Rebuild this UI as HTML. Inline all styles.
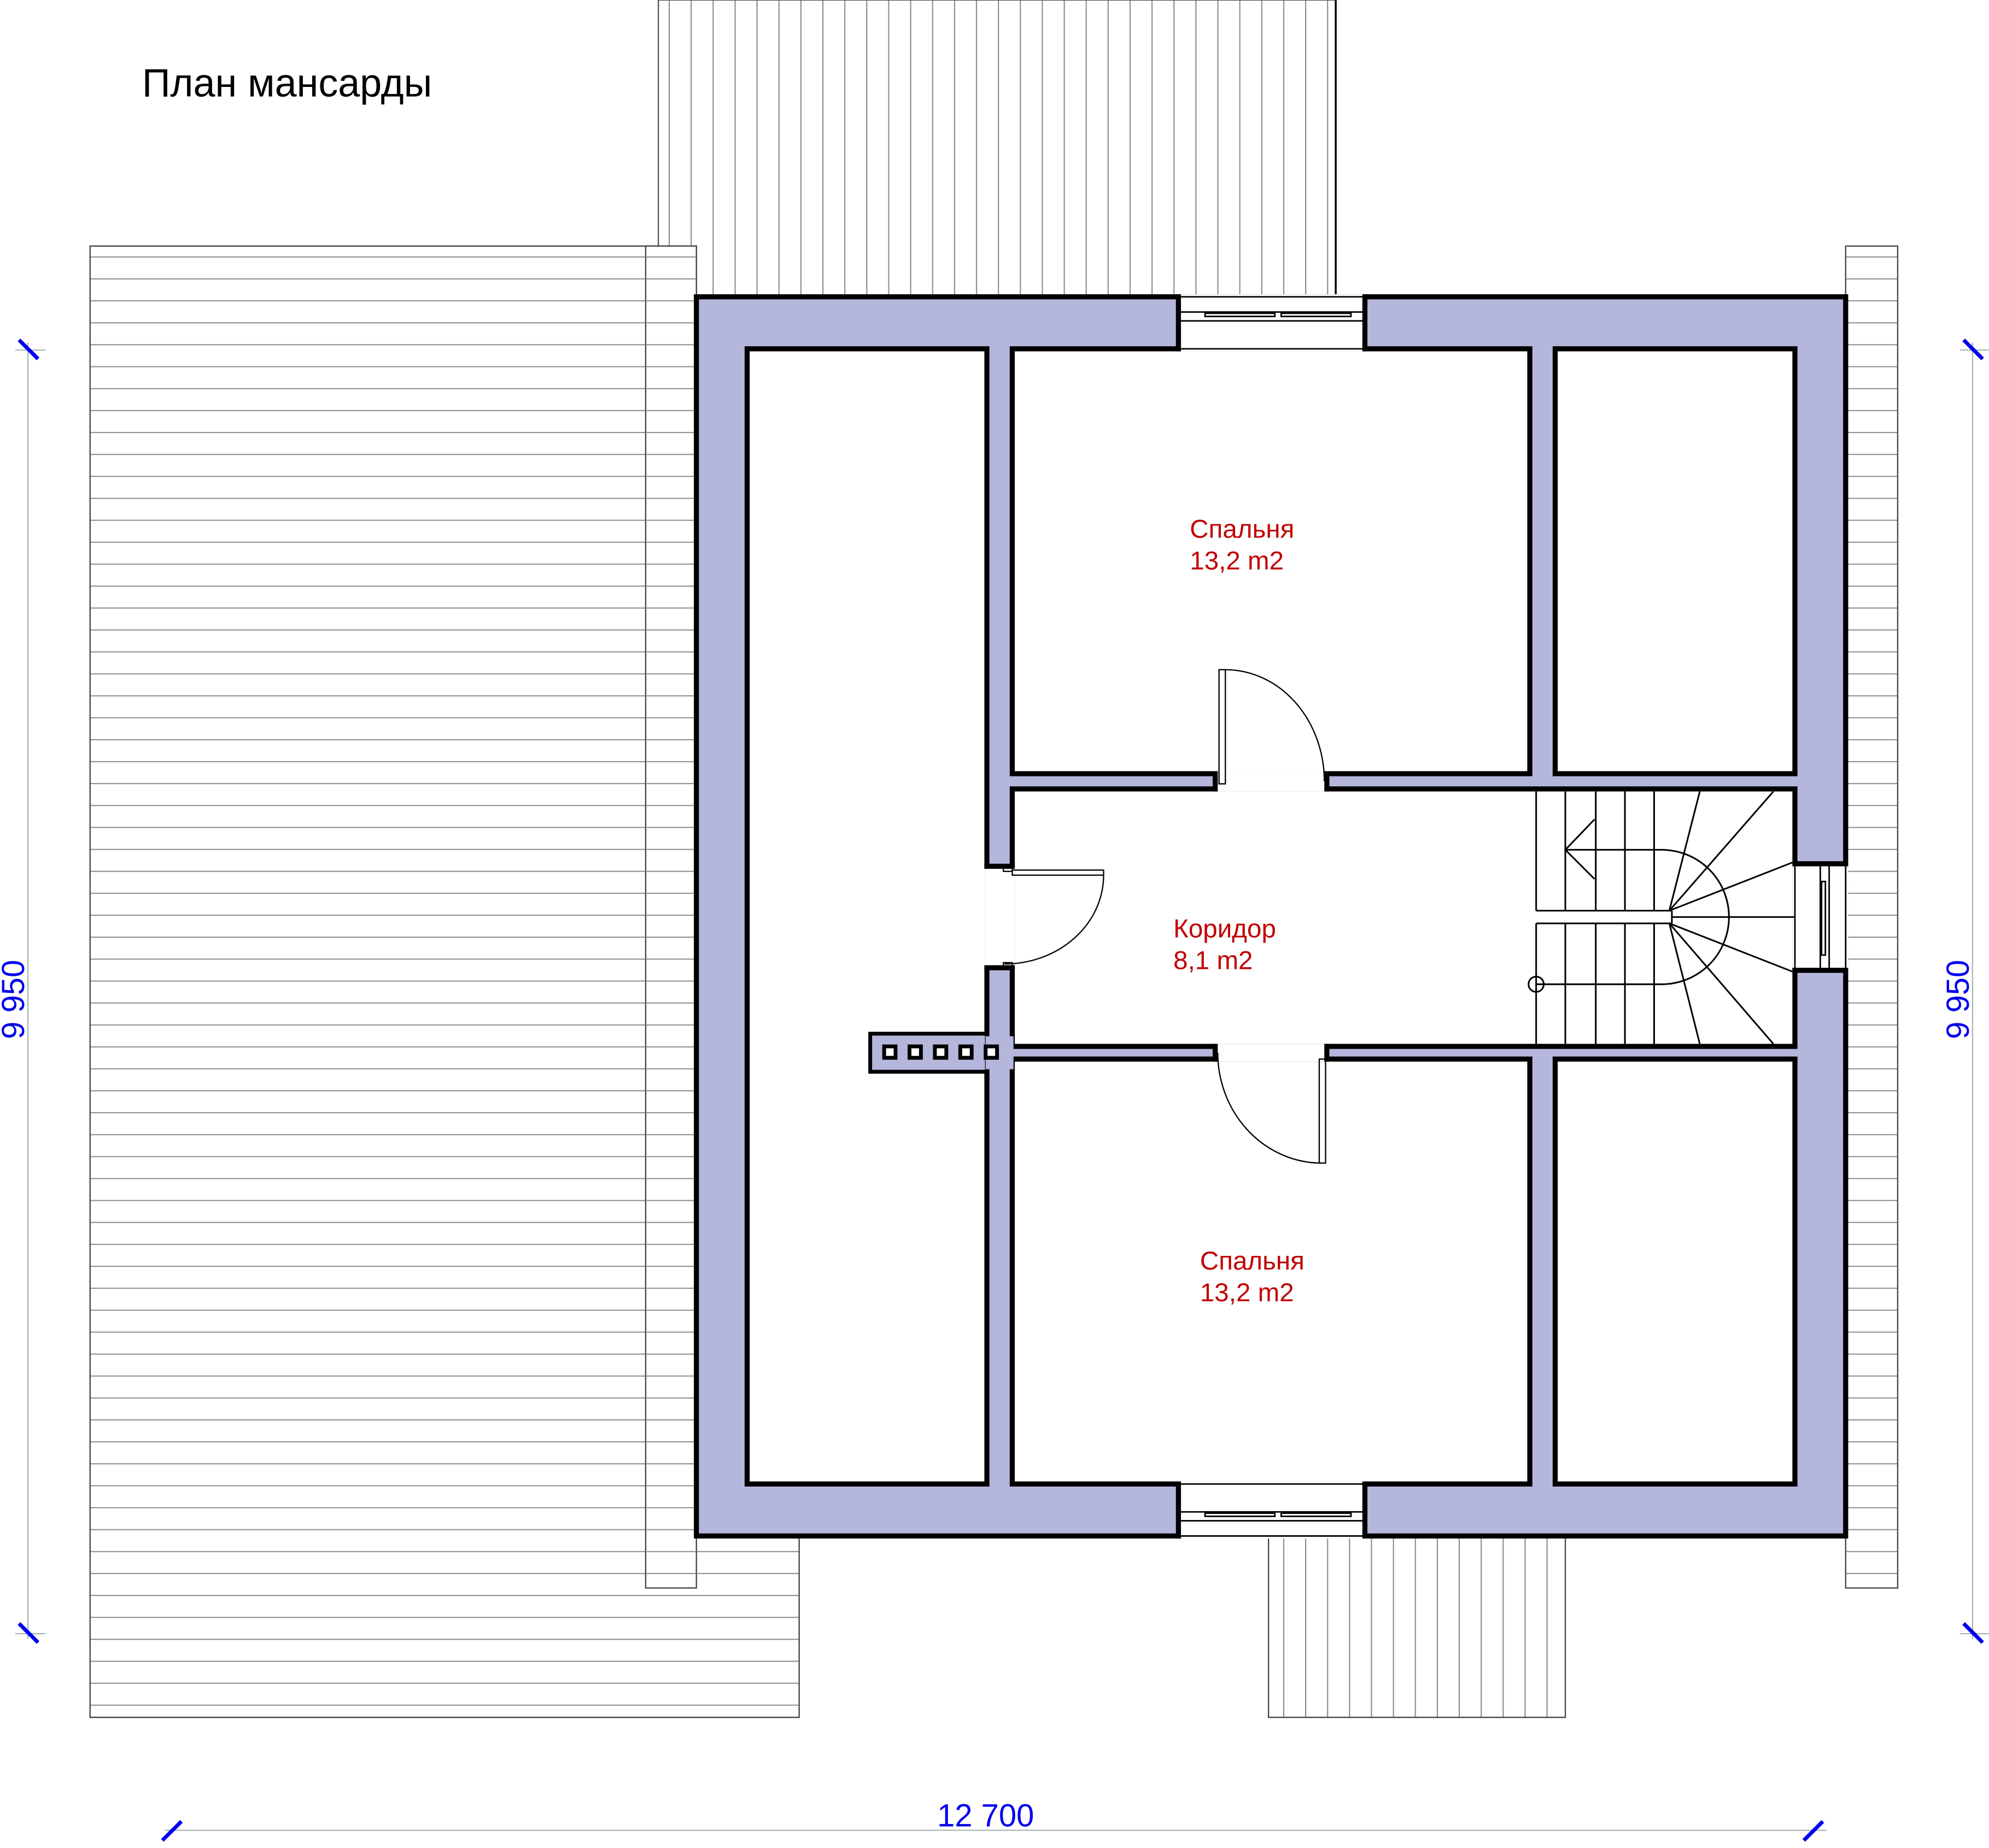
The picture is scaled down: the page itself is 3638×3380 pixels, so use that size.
<!DOCTYPE html>
<html><head><meta charset="utf-8"><style>html,body{margin:0;padding:0;background:#fff}svg{display:block}</style></head>
<body>
<svg width="3638" height="3380" viewBox="0 0 1568 1457" preserveAspectRatio="none" xmlns="http://www.w3.org/2000/svg" font-family="Liberation Sans, sans-serif">
<defs>
<pattern id="hh" x="0" y="194" width="20" height="17.3" patternUnits="userSpaceOnUse"><line x1="0" y1="8.6" x2="20" y2="8.6" stroke="#8a8a8a" stroke-width="0.9"/></pattern>
<pattern id="vv" x="519" y="0" width="17.3" height="20" patternUnits="userSpaceOnUse"><line x1="8.6" y1="0" x2="8.6" y2="20" stroke="#8a8a8a" stroke-width="0.9"/></pattern>
</defs>
<rect width="1568" height="1457" fill="#fff"/>
<text x="112" y="76" font-size="31" fill="#000">План мансарды</text>

<!-- roofs -->
<rect x="519" y="0" width="534" height="234" fill="url(#vv)" stroke="#555" stroke-width="1"/>
<line x1="1053" y1="0" x2="1053" y2="234" stroke="#000" stroke-width="1.5"/>
<polygon points="71,194 549,194 549,1211 630,1211 630,1354 71,1354" fill="url(#hh)" stroke="#444" stroke-width="1"/>
<rect x="509" y="194" width="40" height="1058" fill="#fff" stroke="#444" stroke-width="1"/>
<rect x="509" y="194" width="40" height="1058" fill="url(#hh)"/>
<rect x="1455" y="194" width="41" height="1058" fill="url(#hh)" stroke="#444" stroke-width="1"/>
<rect x="1000" y="1211" width="234" height="143" fill="url(#vv)" stroke="#444" stroke-width="1"/>

<!-- walls -->
<rect x="549" y="234" width="906" height="977" fill="#b4b6dc" stroke="#000" stroke-width="4"/>
<g fill="#fff" stroke="#000" stroke-width="4">
<rect x="589" y="275" width="189" height="895"/>
<rect x="798" y="275" width="408" height="335"/>
<rect x="1226" y="275" width="189" height="335"/>
<rect x="798" y="835" width="408" height="335"/>
<rect x="1226" y="835" width="189" height="335"/>
<rect x="798" y="622" width="617" height="203"/>
</g>
<!-- openings -->
<g fill="#fff" stroke="none">
<rect x="958" y="608" width="88" height="16"/>
<rect x="958" y="823" width="88" height="14"/>
<rect x="776" y="684" width="24" height="78"/>
<rect x="1413" y="681" width="44" height="84"/>
<rect x="929" y="232" width="146" height="45"/>
<rect x="929" y="1168" width="146" height="45"/>
</g>
<!-- windows -->
<g fill="none" stroke="#000" stroke-width="1.2">
<line x1="929" y1="234" x2="1076" y2="234"/><line x1="929" y1="275" x2="1076" y2="275"/>
<rect x="929" y="246" width="147" height="7"/><rect x="950" y="247" width="55" height="2.5"/><rect x="1010" y="247" width="55" height="2.5"/>
<line x1="929" y1="1170" x2="1076" y2="1170"/><line x1="929" y1="1211" x2="1076" y2="1211"/>
<rect x="929" y="1192" width="147" height="7"/><rect x="950" y="1193" width="55" height="2.5"/><rect x="1010" y="1193" width="55" height="2.5"/>
<line x1="1415" y1="681" x2="1415" y2="765"/><line x1="1455" y1="681" x2="1455" y2="765"/>
<rect x="1435" y="682" width="7" height="82"/><rect x="1436" y="695" width="3" height="58"/>
</g>
<g stroke="#000" stroke-width="4" stroke-linecap="square">
<line x1="929" y1="234" x2="929" y2="275"/><line x1="1076" y1="234" x2="1076" y2="275"/>
<line x1="929" y1="1170" x2="929" y2="1211"/><line x1="1076" y1="1170" x2="1076" y2="1211"/>
<line x1="1415" y1="681" x2="1455" y2="681"/><line x1="1415" y1="765" x2="1455" y2="765"/>
<line x1="778" y1="683" x2="798" y2="683"/><line x1="778" y1="763" x2="798" y2="763"/>
<line x1="958" y1="610" x2="958" y2="622"/><line x1="1046" y1="610" x2="1046" y2="622"/>
<line x1="958" y1="825" x2="958" y2="835"/><line x1="1046" y1="825" x2="1046" y2="835"/>
</g>

<!-- doors -->
<g fill="none" stroke="#000" stroke-width="1">
<rect x="961" y="528" width="5" height="90"/>
<path d="M966 528 A78 88 0 0 1 1044 616"/>
<rect x="1040" y="835" width="5" height="82"/>
<path d="M960 830 A82 87 0 0 0 1042 917"/>
<rect x="798" y="686" width="72" height="4"/>
<path d="M870 690 A78 70 0 0 1 792 760"/>
<rect x="791" y="683" width="7" height="4"/><rect x="791" y="759" width="7" height="4"/>
</g>

<!-- chimney -->
<polygon points="686,815 778,815 778,845 686,845" fill="#b4b6dc" stroke="#000" stroke-width="3"/>
<rect x="777" y="817" width="22" height="26" fill="#b4b6dc"/>
<g fill="#fff" stroke="#000" stroke-width="3">
<rect x="697" y="825" width="9" height="9"/><rect x="717" y="825" width="9" height="9"/><rect x="737" y="825" width="9" height="9"/><rect x="757" y="825" width="9" height="9"/><rect x="777" y="825" width="9" height="9"/>
</g>

<!-- stairs -->
<g fill="none" stroke="#000" stroke-width="1.3">
<line x1="1211" y1="624" x2="1211" y2="718"/>
<line x1="1234" y1="624" x2="1234" y2="718"/>
<line x1="1258" y1="624" x2="1258" y2="718"/>
<line x1="1281" y1="624" x2="1281" y2="718"/>
<line x1="1304" y1="624" x2="1304" y2="718"/>
<line x1="1211" y1="728" x2="1211" y2="823"/>
<line x1="1234" y1="728" x2="1234" y2="823"/>
<line x1="1258" y1="728" x2="1258" y2="823"/>
<line x1="1281" y1="728" x2="1281" y2="823"/>
<line x1="1304" y1="728" x2="1304" y2="823"/>
<line x1="1211" y1="718" x2="1318" y2="718"/>
<line x1="1211" y1="728" x2="1318" y2="728"/>
<line x1="1318" y1="718" x2="1318" y2="728"/>
<path d="M1234 670 L1310 670 A53 53 0 0 1 1310 776 L1211 776"/>
<path d="M1257 646 L1234 670 L1257 693"/>
<circle cx="1211" cy="776" r="6"/>
<line x1="1316" y1="718" x2="1340" y2="624"/>
<line x1="1316" y1="718" x2="1398" y2="624"/>
<line x1="1316" y1="718" x2="1413" y2="680"/>
<line x1="1318" y1="723" x2="1415" y2="723"/>
<line x1="1316" y1="728" x2="1413" y2="766"/>
<line x1="1316" y1="728" x2="1398" y2="823"/>
<line x1="1316" y1="728" x2="1340" y2="823"/>
</g>

<!-- labels -->
<g fill="#c00000" font-size="20.5">
<text x="938" y="424">Спальня</text><text x="938" y="449">13,2 m2</text>
<text x="925" y="739">Коридор</text><text x="925" y="764">8,1 m2</text>
<text x="946" y="1001">Спальня</text><text x="946" y="1026">13,2 m2</text>
</g>

<!-- dimensions -->
<g stroke="#9aa" stroke-width="0.8">
<line x1="22" y1="270" x2="22" y2="1292"/><line x1="12" y1="276" x2="36" y2="276"/><line x1="12" y1="1288" x2="36" y2="1288"/>
<line x1="1555" y1="270" x2="1555" y2="1292"/><line x1="1545" y1="276" x2="1568" y2="276"/><line x1="1545" y1="1288" x2="1568" y2="1288"/>
<line x1="130" y1="1443" x2="1440" y2="1443"/>
</g>
<g stroke="#0000ee" stroke-width="3">
<line x1="15" y1="268" x2="30" y2="283"/><line x1="15" y1="1280" x2="30" y2="1295"/>
<line x1="1548" y1="268" x2="1563" y2="283"/><line x1="1548" y1="1280" x2="1563" y2="1295"/>
<line x1="128" y1="1451" x2="143" y2="1436"/><line x1="1422" y1="1451" x2="1437" y2="1436"/>
</g>
<g fill="#0000ee" font-size="25">
<text x="777" y="1440" text-anchor="middle">12 700</text>
<text transform="translate(19,788) rotate(-90)" text-anchor="middle">9 950</text>
<text transform="translate(1552,788) rotate(-90)" text-anchor="middle">9 950</text>
</g>
</svg>
</body></html>
